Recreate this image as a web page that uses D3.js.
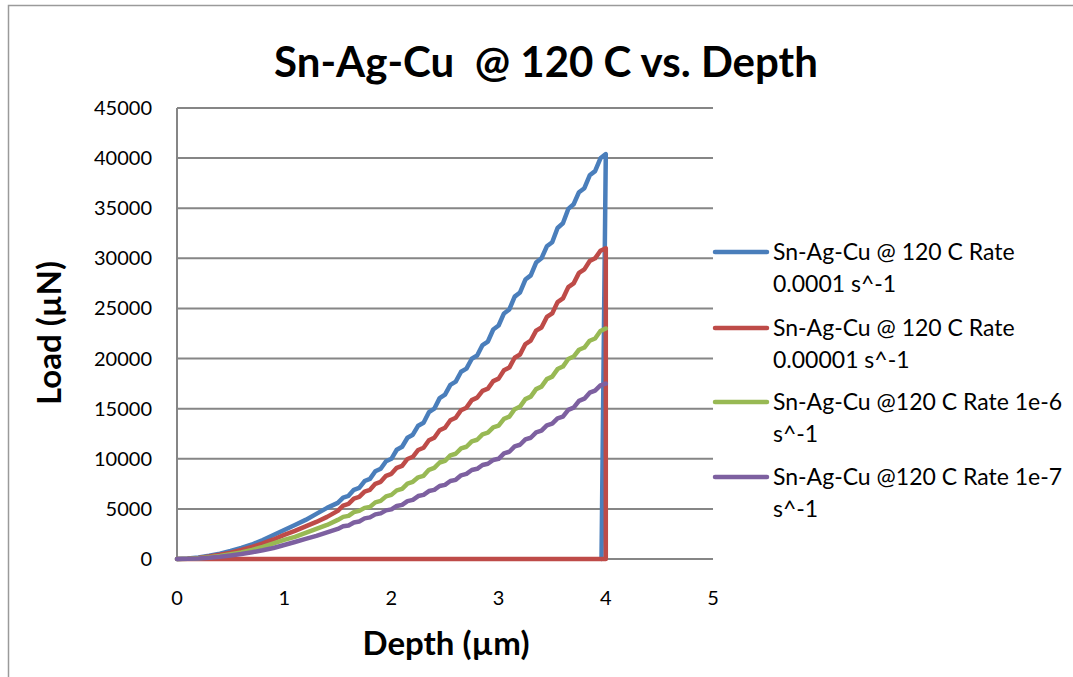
<!DOCTYPE html>
<html>
<head>
<meta charset="utf-8">
<script src="https://cdnjs.cloudflare.com/ajax/libs/d3/7.8.5/d3.min.js"></script>
<style>
  html, body { margin: 0; padding: 0; overflow: hidden; background: #fff; }
  svg { display: block; }
  svg text { font-family: Lato, "Open Sans", sans-serif; fill: #000; }
</style>
</head>
<body>
<div id="chart"></div>
<script>
var width = 1073,
    height = 677;

// depth (µm) at which the loading curves were read
var depth = [0, 0.1, 0.2, 0.3, 0.4, 0.5, 0.6, 0.7, 0.8, 0.9, 1.0, 1.1, 1.2, 1.3, 1.4,
             1.5, 1.55, 1.6, 1.65, 1.7, 1.75, 1.8, 1.85, 1.9, 1.95,
             2.0, 2.05, 2.1, 2.15, 2.2, 2.25, 2.3, 2.35, 2.4, 2.45,
             2.5, 2.55, 2.6, 2.65, 2.7, 2.75, 2.8, 2.85, 2.9, 2.95,
             3.0, 3.05, 3.1, 3.15, 3.2, 3.25, 3.3, 3.35, 3.4, 3.45,
             3.5, 3.55, 3.6, 3.65, 3.7, 3.75, 3.8, 3.85, 3.9, 3.95,
             4.0];

// load (µN)
var loadRate4 = [0, 40, 150, 320, 540, 800, 1100, 1450, 1900, 2400, 2900, 3400, 3900, 4500, 5100,
                 5600, 6130, 6300, 6900, 7100, 7780, 8000, 8750, 9000, 9750,
                 10000, 10900, 11200, 12100, 12400, 13300, 13600, 14650, 15000, 16050,
                 16400, 17380, 17700, 18680, 19000, 19980, 20300, 21350, 21700, 22900,
                 23300, 24500, 24900, 26180, 26600, 27880, 28300, 29580, 30000, 31200,
                 31600, 33030, 33500, 34930, 35400, 36600, 37000, 38280, 38700, 39980,
                 40400];
var loadRate5 = [0, 30, 110, 250, 420, 640, 900, 1200, 1550, 1950, 2400, 2800, 3250, 3700, 4200,
                 4800, 5330, 5500, 6030, 6200, 6730, 6900, 7500, 7700, 8300,
                 8500, 9100, 9300, 9980, 10200, 10880, 11100, 11850, 12100, 12850,
                 13100, 13850, 14100, 14850, 15100, 15850, 16100, 16780, 17000, 17750,
                 18000, 18830, 19100, 20080, 20400, 21450, 21800, 22780, 23100, 24150,
                 24500, 25630, 26000, 27130, 27500, 28550, 28900, 29730, 30000, 30750,
                 31000];
var loadRate6 = [0, 20, 80, 180, 310, 470, 650, 900, 1200, 1550, 1900, 2200, 2600, 3000, 3400,
                 3900, 4200, 4300, 4680, 4800, 5100, 5200, 5650, 5800, 6250,
                 6400, 6850, 7000, 7530, 7700, 8150, 8300, 8900, 9100, 9630,
                 9800, 10330, 10500, 11030, 11200, 11730, 11900, 12430, 12600, 13130,
                 13300, 13980, 14200, 14950, 15200, 15950, 16200, 16950, 17200, 17950,
                 18200, 18950, 19200, 19950, 20200, 20880, 21100, 21780, 22000, 22750,
                 23000];
var loadRate7 = [0, 15, 60, 130, 230, 360, 500, 670, 870, 1100, 1400, 1700, 2000, 2300, 2650,
                 3000, 3260, 3350, 3650, 3750, 4050, 4150, 4450, 4550, 4850,
                 4950, 5290, 5400, 5780, 5900, 6280, 6400, 6780, 6900, 7280,
                 7400, 7780, 7900, 8350, 8500, 8880, 9000, 9380, 9500, 9880,
                 10000, 10530, 10700, 11230, 11400, 11930, 12100, 12630, 12800, 13330,
                 13500, 14030, 14200, 14880, 15100, 15780, 16000, 16600, 16800, 17330,
                 17500];

// unloading tails [depth, load]
var unloadRate4 = [[3.96, 0]];
var unloadRate5 = [[4.0, 0], [0, 0]];

var seriesNames = ['Sn-Ag-Cu @ 120 C Rate 0.0001 s^-1',
                   'Sn-Ag-Cu @ 120 C Rate 0.00001 s^-1',
                   'Sn-Ag-Cu @120 C Rate 1e-6 s^-1',
                   'Sn-Ag-Cu @120 C Rate 1e-7 s^-1'];
var legendLines = [['Sn-Ag-Cu @ 120 C Rate', '0.0001 s^-1'],
                   ['Sn-Ag-Cu @ 120 C Rate', '0.00001 s^-1'],
                   ['Sn-Ag-Cu @120 C Rate 1e-6', 's^-1'],
                   ['Sn-Ag-Cu @120 C Rate 1e-7', 's^-1']];
var colors = ['#4a7ebb', '#be4b48', '#98b954', '#7d60a0'];

var xTicks = [0, 1, 2, 3, 4, 5];
var yTicks = [0, 5000, 10000, 15000, 20000, 25000, 30000, 35000, 40000, 45000];

var series = [
    depth.map(function(d, i) { return [d, loadRate4[i]]; }).concat(unloadRate4),
    depth.map(function(d, i) { return [d, loadRate5[i]]; }).concat(unloadRate5),
    depth.map(function(d, i) { return [d, loadRate6[i]]; }),
    depth.map(function(d, i) { return [d, loadRate7[i]]; })
];

var svg = d3.select('#chart').append('svg')
    .attr('width', width)
    .attr('height', height);

// chart frame
svg.append('rect')
    .attr('x', 8.5).attr('y', 5.5)
    .attr('width', 1100).attr('height', 700)
    .style('fill', 'none')
    .style('stroke', '#9a9a9a')
    .style('stroke-width', 1.5);

var x = d3.scaleLinear().domain([0, 5]).range([177, 713]);
var y = d3.scaleLinear().domain([0, 45000]).range([559, 108]);

// gridlines
svg.append('g')
    .selectAll('line')
    .data(yTicks)
    .enter().append('line')
    .attr('x1', x(0)).attr('x2', x(5))
    .attr('y1', function(d) { return y(d); })
    .attr('y2', function(d) { return y(d); })
    .style('stroke', '#868686')
    .style('stroke-width', 2);

// y axis line
svg.append('line')
    .attr('x1', x(0)).attr('x2', x(0))
    .attr('y1', y(0)).attr('y2', y(45000))
    .style('stroke', '#868686')
    .style('stroke-width', 2);

// tick labels
svg.append('g')
    .selectAll('text')
    .data(yTicks)
    .enter().append('text')
    .attr('x', 152)
    .attr('y', function(d) { return y(d) + 7; })
    .attr('text-anchor', 'end')
    .style('font-size', '20px')
    .text(function(d) { return d; });

svg.append('g')
    .selectAll('text')
    .data(xTicks)
    .enter().append('text')
    .attr('x', function(d) { return x(d); })
    .attr('y', 605)
    .attr('text-anchor', 'middle')
    .style('font-size', '20px')
    .text(function(d) { return d; });

// series
var line = d3.line()
    .x(function(d) { return x(d[0]); })
    .y(function(d) { return y(d[1]); });

svg.append('g')
    .selectAll('path')
    .data(series)
    .enter().append('path')
    .attr('d', line)
    .style('fill', 'none')
    .style('stroke', function(d, i) { return colors[i]; })
    .style('stroke-width', 4.5)
    .style('stroke-linejoin', 'round')
    .style('stroke-linecap', 'round');

// titles
svg.append('text')
    .attr('x', 546)
    .attr('y', 77)
    .attr('text-anchor', 'middle')
    .style('font-size', '42px')
    .style('font-weight', 'bold')
    .style('white-space', 'pre')
    .text('Sn-Ag-Cu  @ 120 C vs. Depth');

svg.append('text')
    .attr('x', 446)
    .attr('y', 655)
    .attr('text-anchor', 'middle')
    .style('font-size', '33px')
    .style('font-weight', 'bold')
    .text('Depth (µm)');

svg.append('text')
    .attr('transform', 'translate(61,333) rotate(-90)')
    .attr('text-anchor', 'middle')
    .style('font-size', '33px')
    .style('font-weight', 'bold')
    .text('Load (µN)');

// legend
var legendY = [252, 328, 402, 477];
var legend = svg.append('g')
    .selectAll('g')
    .data(seriesNames)
    .enter().append('g')
    .attr('transform', function(d, i) { return 'translate(0,' + legendY[i] + ')'; });

legend.append('line')
    .attr('x1', 715).attr('x2', 767)
    .style('stroke', function(d, i) { return colors[i]; })
    .style('stroke-width', 4.5)
    .style('stroke-linecap', 'round');

legend.each(function(d, i) {
    d3.select(this).selectAll('text')
        .data(legendLines[i])
        .enter().append('text')
        .attr('x', 773)
        .attr('y', function(t, j) { return 8 + j * 32; })
        .style('font-size', '23px')
        .text(function(t) { return t; });
});
</script>
</body>
</html>
